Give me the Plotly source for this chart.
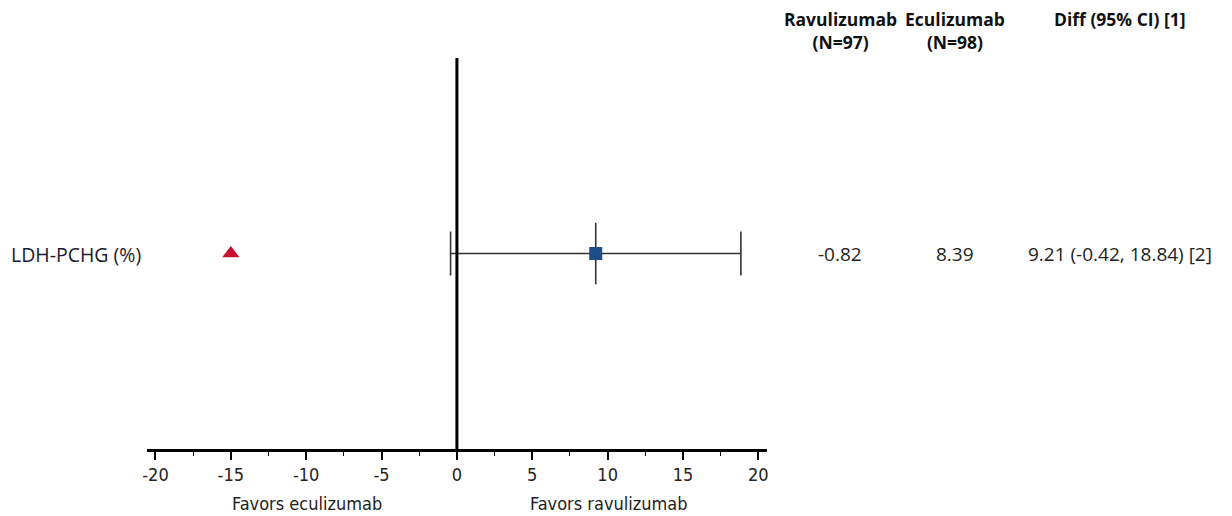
import plotly.graph_objects as go

# ---- data ----
row_labels = ["LDH-PCHG (%)"]
diff_est = [9.21]
ci_low = [-0.42]
ci_high = [18.84]
triangle_x = [-15]
ravu_vals = ["-0.82"]
ecu_vals = ["8.39"]
diff_text = ["9.21 (-0.42, 18.84) [2]"]
col_headers = ["Ravulizumab<br>(N=97)", "Eculizumab<br>(N=98)", "Diff (95% CI) [1]"]
tick_vals = [-20, -15, -10, -5, 0, 5, 10, 15, 20]
tick_text = ["-20", "-15", "-10", "-5", "0", "5", "10", "15", "20"]
favor_labels = ["Favors eculizumab", "Favors ravulizumab"]

W, H = 1232, 516
FONT = "Open Sans"
COND = "DejaVu Sans Condensed"
row_y = [0.5]

fig = go.Figure()

# CI line with caps
fig.add_trace(go.Scatter(
    x=diff_est, y=row_y, mode="markers",
    marker=dict(size=1, color="rgba(0,0,0,0)"),
    error_x=dict(type="data", symmetric=False,
                 array=[h - e for h, e in zip(ci_high, diff_est)],
                 arrayminus=[e - l for e, l in zip(diff_est, ci_low)],
                 width=22, thickness=1.6, color="#333333"),
    showlegend=False, hoverinfo="skip"))
# vertical tick through point estimate
fig.add_trace(go.Scatter(
    x=diff_est, y=row_y, mode="markers",
    marker=dict(symbol="line-ns-open", size=44, color="#333333",
                line=dict(width=1.6, color="#333333")),
    showlegend=False, hoverinfo="skip"))
# point estimate square
fig.add_trace(go.Scatter(
    x=diff_est, y=row_y, mode="markers",
    marker=dict(symbol="square", size=13, color="#1c4e85", line=dict(width=0)),
    showlegend=False))
# red triangle
fig.add_trace(go.Scatter(
    x=triangle_x, y=row_y, mode="markers",
    marker=dict(symbol="triangle-up", size=15, color="#c8102e", line=dict(width=0)),
    showlegend=False))

# zero line
fig.add_shape(type="line", xref="x", yref="y", x0=0, x1=0, y0=0, y1=1,
              line=dict(color="black", width=3))

left_px, right_px = 143, 766
top_px, bottom_px = 58, 449
xr = [-20.55, 20.55]

fig.update_layout(
    width=W, height=H,
    margin=dict(l=0, r=0, t=0, b=0),
    paper_bgcolor="white", plot_bgcolor="white",
    font=dict(family=FONT, size=18, color="#222222"),
    xaxis=dict(domain=[left_px / W, right_px / W], range=xr,
               tickvals=tick_vals, ticktext=tick_text, ticks="outside", ticklen=8, tickwidth=1.5,
               tickcolor="black", showline=True, linecolor="black", linewidth=2.5,
               showgrid=False, zeroline=False,
               tickfont=dict(family=COND, size=18, color="#222222"),
               minor=dict(dtick=2.5, tick0=0, ticks="outside", ticklen=4, tickcolor="black",
                          tickwidth=1.2, showgrid=False)),
    yaxis=dict(domain=[(H - bottom_px) / H, (H - top_px) / H], range=[0, 1],
               visible=False, showgrid=False, zeroline=False),
)

ann = []
for lab, y in zip(row_labels, row_y):
    ann.append(dict(x=4 / W, y=(H - 254) / H, xref="paper", yref="paper", text=lab,
                    showarrow=False, xanchor="left", yanchor="middle",
                    font=dict(size=19.5, color="#1a1a30")))
col_x = [840, 955, 1121]
for cx, head in zip(col_x, col_headers):
    ann.append(dict(x=cx / W, y=(H - 5) / H, xref="paper", yref="paper",
                    text="<b>" + head.replace("<br>", "</b><br><b>") + "</b>",
                    showarrow=False, xanchor="center", yanchor="top",
                    font=dict(size=17.5, color="#111111")))
for cx, vals in zip(col_x, [ravu_vals, ecu_vals, diff_text]):
    ann.append(dict(x=cx / W, y=(H - 254) / H, xref="paper", yref="paper", text=vals[0],
                    showarrow=False, xanchor="center", yanchor="middle",
                    font=dict(size=19, color="#222222")))
for fx, lab in zip([304, 607], favor_labels):
    ann.append(dict(x=fx / W, y=(H - 503) / H, xref="paper", yref="paper", text=lab,
                    showarrow=False, xanchor="center", yanchor="middle",
                    font=dict(size=18, color="#222222", family=COND)))
fig.update_layout(annotations=ann)

fig.write_html("out.html", config={"displayModeBar": False},
               post_script="document.body.style.margin='0px';")
